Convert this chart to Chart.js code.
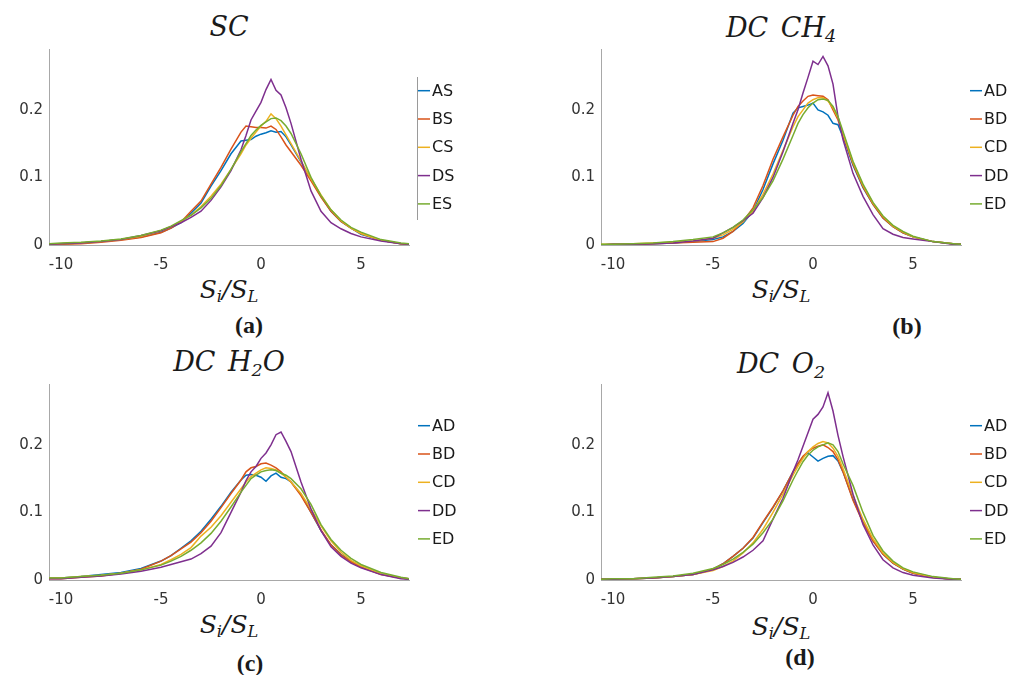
<!DOCTYPE html>
<html>
<head>
<meta charset="utf-8">
<title>PDF of S_i/S_L</title>
<script src="https://cdn.jsdelivr.net/npm/chart.js@4.4.0/dist/chart.umd.min.js"></script>
<style>
  body { margin: 0; background: #fff; }
  #page { position: relative; width: 1025px; height: 675px; overflow: hidden; background: #fff; }
  #page canvas { position: absolute; left: 0; top: 0; }
  .txt { position: absolute; transform: translate(-50%, -50%); white-space: nowrap; color: #1a1a1a; line-height: 1; }
  .title { font: italic 27px "DejaVu Serif"; word-spacing: 4px; }
  .xlab { font: italic 25px "DejaVu Serif"; }
  .tag { font: bold 24px "Liberation Serif"; }
  sub { font-size: 65%; vertical-align: -0.3em; line-height: 0; }
</style>
</head>
<body>
<div id="page">
  <div class="txt title" style="left:229px; top:26px">SC</div>
  <div class="txt title" style="left:781px; top:27px">DC CH<sub>4</sub></div>
  <div class="txt title" style="left:229px; top:361px">DC H<sub>2</sub>O</div>
  <div class="txt title" style="left:781px; top:363px">DC O<sub>2</sub></div>

  <div class="txt xlab" style="left:229px; top:289px">S<sub>i</sub>/S<sub>L</sub></div>
  <div class="txt xlab" style="left:781px; top:289px">S<sub>i</sub>/S<sub>L</sub></div>
  <div class="txt xlab" style="left:229px; top:624px">S<sub>i</sub>/S<sub>L</sub></div>
  <div class="txt xlab" style="left:781px; top:626px">S<sub>i</sub>/S<sub>L</sub></div>

  <div class="txt tag" style="left:249px; top:325px">(a)</div>
  <div class="txt tag" style="left:907px; top:326px">(b)</div>
  <div class="txt tag" style="left:250px; top:663px">(c)</div>
  <div class="txt tag" style="left:800px; top:657px">(d)</div>
</div>
<script>
const page = document.getElementById('page');

// shared abscissa S_i/S_L (denser around the peak)
const xs = [-10.6, -10, -9, -8, -7, -6, -5, -4.5, -4, -3.5, -3, -2.5, -2, -1.5, -1, -0.75, -0.5, -0.25,
            0, 0.25, 0.5, 0.75, 1, 1.25, 1.5, 2, 2.5, 3, 3.5, 4, 4.5, 5, 6, 7, 7.4];
const xTicks = [-10, -5, 0, 5];
const yTicks = [0, 0.1, 0.2];

const scLabels = ['AS', 'BS', 'CS', 'DS', 'ES'];
const dcLabels = ['AD', 'BD', 'CD', 'DD', 'ED'];
const colors = ['#0072BD', '#D95319', '#EDB120', '#7E2F8E', '#77AC30'];

// (a) SC
const sc_AS = [0.002,0.002,0.003,0.005,0.008,0.012,0.019,0.025,0.033,0.047,0.062,0.087,0.11,0.135,0.154,0.155,0.156,0.161,0.164,0.166,0.169,0.167,0.168,0.16,0.148,0.123,0.098,0.072,0.05,0.035,0.025,0.016,0.007,0.002,0.001];
const sc_BS = [0.001,0.001,0.002,0.004,0.007,0.011,0.018,0.025,0.034,0.05,0.065,0.09,0.115,0.142,0.167,0.176,0.175,0.174,0.174,0.173,0.176,0.171,0.16,0.148,0.138,0.118,0.095,0.071,0.05,0.035,0.025,0.017,0.007,0.002,0.001];
const sc_CS = [0.002,0.002,0.003,0.005,0.008,0.013,0.021,0.027,0.035,0.044,0.057,0.072,0.09,0.112,0.135,0.148,0.158,0.167,0.176,0.183,0.194,0.187,0.176,0.163,0.15,0.124,0.098,0.074,0.052,0.036,0.025,0.017,0.007,0.002,0.001];
const sc_DS = [0.001,0.002,0.003,0.005,0.008,0.014,0.021,0.027,0.033,0.041,0.05,0.066,0.086,0.11,0.141,0.162,0.185,0.198,0.211,0.23,0.245,0.229,0.222,0.203,0.18,0.127,0.08,0.05,0.033,0.024,0.017,0.012,0.006,0.002,0.001];
const sc_ES = [0.002,0.003,0.004,0.006,0.009,0.014,0.022,0.028,0.036,0.044,0.055,0.069,0.088,0.112,0.138,0.15,0.162,0.17,0.177,0.182,0.187,0.188,0.184,0.176,0.165,0.135,0.1,0.073,0.052,0.037,0.026,0.019,0.008,0.003,0.002];

// (b) DC CH4
const ch4_AD = [0,0.001,0.001,0.002,0.003,0.005,0.008,0.012,0.02,0.032,0.05,0.082,0.12,0.155,0.195,0.203,0.205,0.207,0.21,0.2,0.197,0.192,0.18,0.178,0.16,0.118,0.085,0.06,0.04,0.027,0.018,0.012,0.005,0.002,0.001];
const ch4_BD = [0,0.001,0.001,0.002,0.003,0.004,0.005,0.01,0.02,0.035,0.055,0.088,0.127,0.16,0.192,0.205,0.213,0.22,0.222,0.221,0.22,0.215,0.2,0.185,0.163,0.12,0.086,0.06,0.04,0.027,0.018,0.012,0.005,0.002,0.001];
const ch4_CD = [0.001,0.001,0.002,0.003,0.004,0.006,0.01,0.015,0.023,0.034,0.05,0.075,0.105,0.14,0.175,0.19,0.2,0.21,0.215,0.218,0.218,0.213,0.203,0.188,0.165,0.122,0.088,0.062,0.042,0.028,0.019,0.012,0.005,0.002,0.001];
const ch4_DD = [0,0.001,0.001,0.002,0.003,0.006,0.01,0.018,0.026,0.036,0.047,0.07,0.1,0.138,0.18,0.2,0.225,0.248,0.272,0.267,0.279,0.265,0.238,0.19,0.156,0.106,0.072,0.045,0.024,0.016,0.011,0.009,0.005,0.001,0.001];
const ch4_ED = [0.001,0.001,0.002,0.003,0.005,0.008,0.012,0.018,0.026,0.037,0.052,0.07,0.095,0.127,0.162,0.18,0.193,0.203,0.21,0.215,0.216,0.214,0.205,0.19,0.168,0.124,0.09,0.063,0.043,0.029,0.02,0.013,0.005,0.002,0.001];

// (c) DC H2O
const h2o_AD = [0.003,0.003,0.005,0.008,0.011,0.017,0.028,0.036,0.047,0.058,0.072,0.09,0.109,0.13,0.148,0.155,0.156,0.155,0.152,0.146,0.154,0.158,0.152,0.15,0.145,0.127,0.1,0.073,0.052,0.038,0.028,0.02,0.009,0.003,0.002];
const h2o_BD = [0.002,0.002,0.004,0.006,0.01,0.016,0.028,0.036,0.046,0.056,0.07,0.087,0.107,0.128,0.148,0.16,0.166,0.168,0.172,0.173,0.17,0.166,0.16,0.152,0.145,0.125,0.1,0.074,0.052,0.037,0.027,0.019,0.008,0.003,0.002];
const h2o_CD = [0.003,0.003,0.005,0.007,0.01,0.015,0.023,0.03,0.038,0.048,0.065,0.078,0.095,0.115,0.135,0.145,0.153,0.158,0.163,0.166,0.165,0.163,0.158,0.152,0.145,0.128,0.105,0.08,0.058,0.041,0.029,0.021,0.009,0.003,0.002];
const h2o_DD = [0.002,0.002,0.004,0.006,0.009,0.013,0.019,0.023,0.027,0.031,0.039,0.05,0.07,0.1,0.13,0.147,0.16,0.168,0.18,0.188,0.2,0.215,0.219,0.205,0.19,0.145,0.105,0.073,0.049,0.035,0.025,0.018,0.008,0.002,0.001];
const h2o_ED = [0.003,0.003,0.005,0.007,0.01,0.015,0.022,0.028,0.035,0.044,0.055,0.069,0.087,0.108,0.13,0.14,0.15,0.155,0.16,0.162,0.163,0.162,0.158,0.155,0.15,0.135,0.112,0.082,0.06,0.044,0.032,0.023,0.011,0.004,0.002];

// (d) DC O2
const o2_AD = [0.001,0.001,0.002,0.003,0.005,0.008,0.016,0.024,0.035,0.047,0.062,0.085,0.107,0.132,0.16,0.172,0.182,0.188,0.182,0.176,0.18,0.183,0.184,0.176,0.16,0.12,0.086,0.058,0.038,0.025,0.016,0.01,0.004,0.001,0.001];
const o2_BD = [0.001,0.001,0.002,0.003,0.005,0.008,0.016,0.024,0.035,0.047,0.063,0.086,0.108,0.132,0.16,0.172,0.183,0.19,0.195,0.198,0.2,0.196,0.19,0.178,0.16,0.118,0.085,0.058,0.038,0.025,0.016,0.01,0.004,0.001,0.001];
const o2_CD = [0.001,0.001,0.002,0.003,0.005,0.008,0.014,0.02,0.028,0.04,0.055,0.075,0.1,0.127,0.155,0.168,0.18,0.19,0.197,0.202,0.205,0.203,0.195,0.183,0.165,0.125,0.09,0.061,0.04,0.026,0.017,0.011,0.004,0.001,0.001];
const o2_DD = [0.001,0.001,0.002,0.003,0.005,0.008,0.015,0.02,0.026,0.034,0.044,0.058,0.09,0.121,0.16,0.178,0.198,0.218,0.238,0.245,0.256,0.277,0.25,0.214,0.183,0.127,0.082,0.052,0.03,0.018,0.011,0.007,0.003,0.001,0.001];
const o2_ED = [0.001,0.002,0.002,0.004,0.006,0.01,0.017,0.023,0.031,0.041,0.053,0.07,0.09,0.117,0.148,0.162,0.175,0.185,0.192,0.197,0.2,0.203,0.2,0.19,0.172,0.14,0.1,0.066,0.043,0.028,0.018,0.012,0.005,0.002,0.001];

const axisColor = '#a8a8a8';
const tickFont = { family: 'DejaVu Sans', size: 15 };

/**
 * Legend to the right of the axes: short line + label, MATLAB style.
 */
const sideLegend = {
  id: 'sideLegend',
  afterDatasetsDraw(chart, args, opts) {
    const { ctx, chartArea } = chart;
    const x0 = chartArea.right;
    ctx.save();
    if (opts.frame) {
      ctx.strokeStyle = '#9a9a9a';
      ctx.lineWidth = 1;
      ctx.beginPath();
      ctx.moveTo(x0 + 8.5, chartArea.top + 28);
      ctx.lineTo(x0 + 8.5, chartArea.top + 171);
      ctx.stroke();
    }
    ctx.font = '16px "DejaVu Sans"';
    ctx.textBaseline = 'middle';
    chart.data.datasets.forEach((ds, i) => {
      const y = chartArea.top + 41.7 + i * 28.3;
      ctx.strokeStyle = ds.borderColor;
      ctx.lineWidth = 1.5;
      ctx.beginPath();
      ctx.moveTo(x0 + 9, y);
      ctx.lineTo(x0 + 21, y);
      ctx.stroke();
      ctx.fillStyle = '#1a1a1a';
      ctx.fillText(ds.label, x0 + 23, y + 1);
    });
    ctx.restore();
  }
};

const panels = [
  { series: [sc_AS, sc_BS, sc_CS, sc_DS, sc_ES], labels: scLabels, area: [49, 49, 409, 245], frame: true },
  { series: [ch4_AD, ch4_BD, ch4_CD, ch4_DD, ch4_ED], labels: dcLabels, area: [601, 49, 961, 245], frame: false },
  { series: [h2o_AD, h2o_BD, h2o_CD, h2o_DD, h2o_ED], labels: dcLabels, area: [49, 384, 409, 580], frame: false },
  { series: [o2_AD, o2_BD, o2_CD, o2_DD, o2_ED], labels: dcLabels, area: [601, 384, 961, 580], frame: false }
];

function makePanel(p) {
  const canvas = document.createElement('canvas');
  canvas.width = 1025;
  canvas.height = 675;
  page.appendChild(canvas);
  const [left, top, right, bottom] = p.area;

  return new Chart(canvas.getContext('2d'), {
    type: 'line',
    data: {
      datasets: p.series.map((ys, i) => ({
        label: p.labels[i],
        data: ys.map((y, k) => ({ x: xs[k], y: y })),
        borderColor: colors[i],
        borderWidth: 1.5,
        pointRadius: 0,
        tension: 0,
        order: 5 - i   // last series on top, like MATLAB
      }))
    },
    options: {
      responsive: false,
      animation: false,
      events: [],
      layout: { padding: { left: left - 45, top: top, right: 1025 - right, bottom: 675 - bottom - 30 } },
      plugins: {
        legend: { display: false },
        tooltip: { enabled: false },
        sideLegend: { frame: p.frame }
      },
      scales: {
        x: {
          type: 'linear',
          min: -10.6,
          max: 7.4,
          grid: { display: false, drawTicks: false },
          border: { display: true, color: axisColor, width: 1 },
          ticks: { font: tickFont, color: '#333', padding: 11, maxRotation: 0, autoSkip: false, callback: v => String(v) },
          afterBuildTicks: s => { s.ticks = xTicks.map(v => ({ value: v })); },
          afterFit: s => { s.height = 30; }
        },
        y: {
          min: 0,
          max: 0.29,
          grid: { display: false, drawTicks: false },
          border: { display: true, color: axisColor, width: 1 },
          ticks: { font: tickFont, color: '#333', padding: 6, autoSkip: false, callback: v => String(v) },
          afterBuildTicks: s => { s.ticks = yTicks.map(v => ({ value: v })); },
          afterFit: s => { s.width = 45; }
        }
      }
    },
    plugins: [sideLegend]
  });
}

panels.forEach(makePanel);
</script>
</body>
</html>
